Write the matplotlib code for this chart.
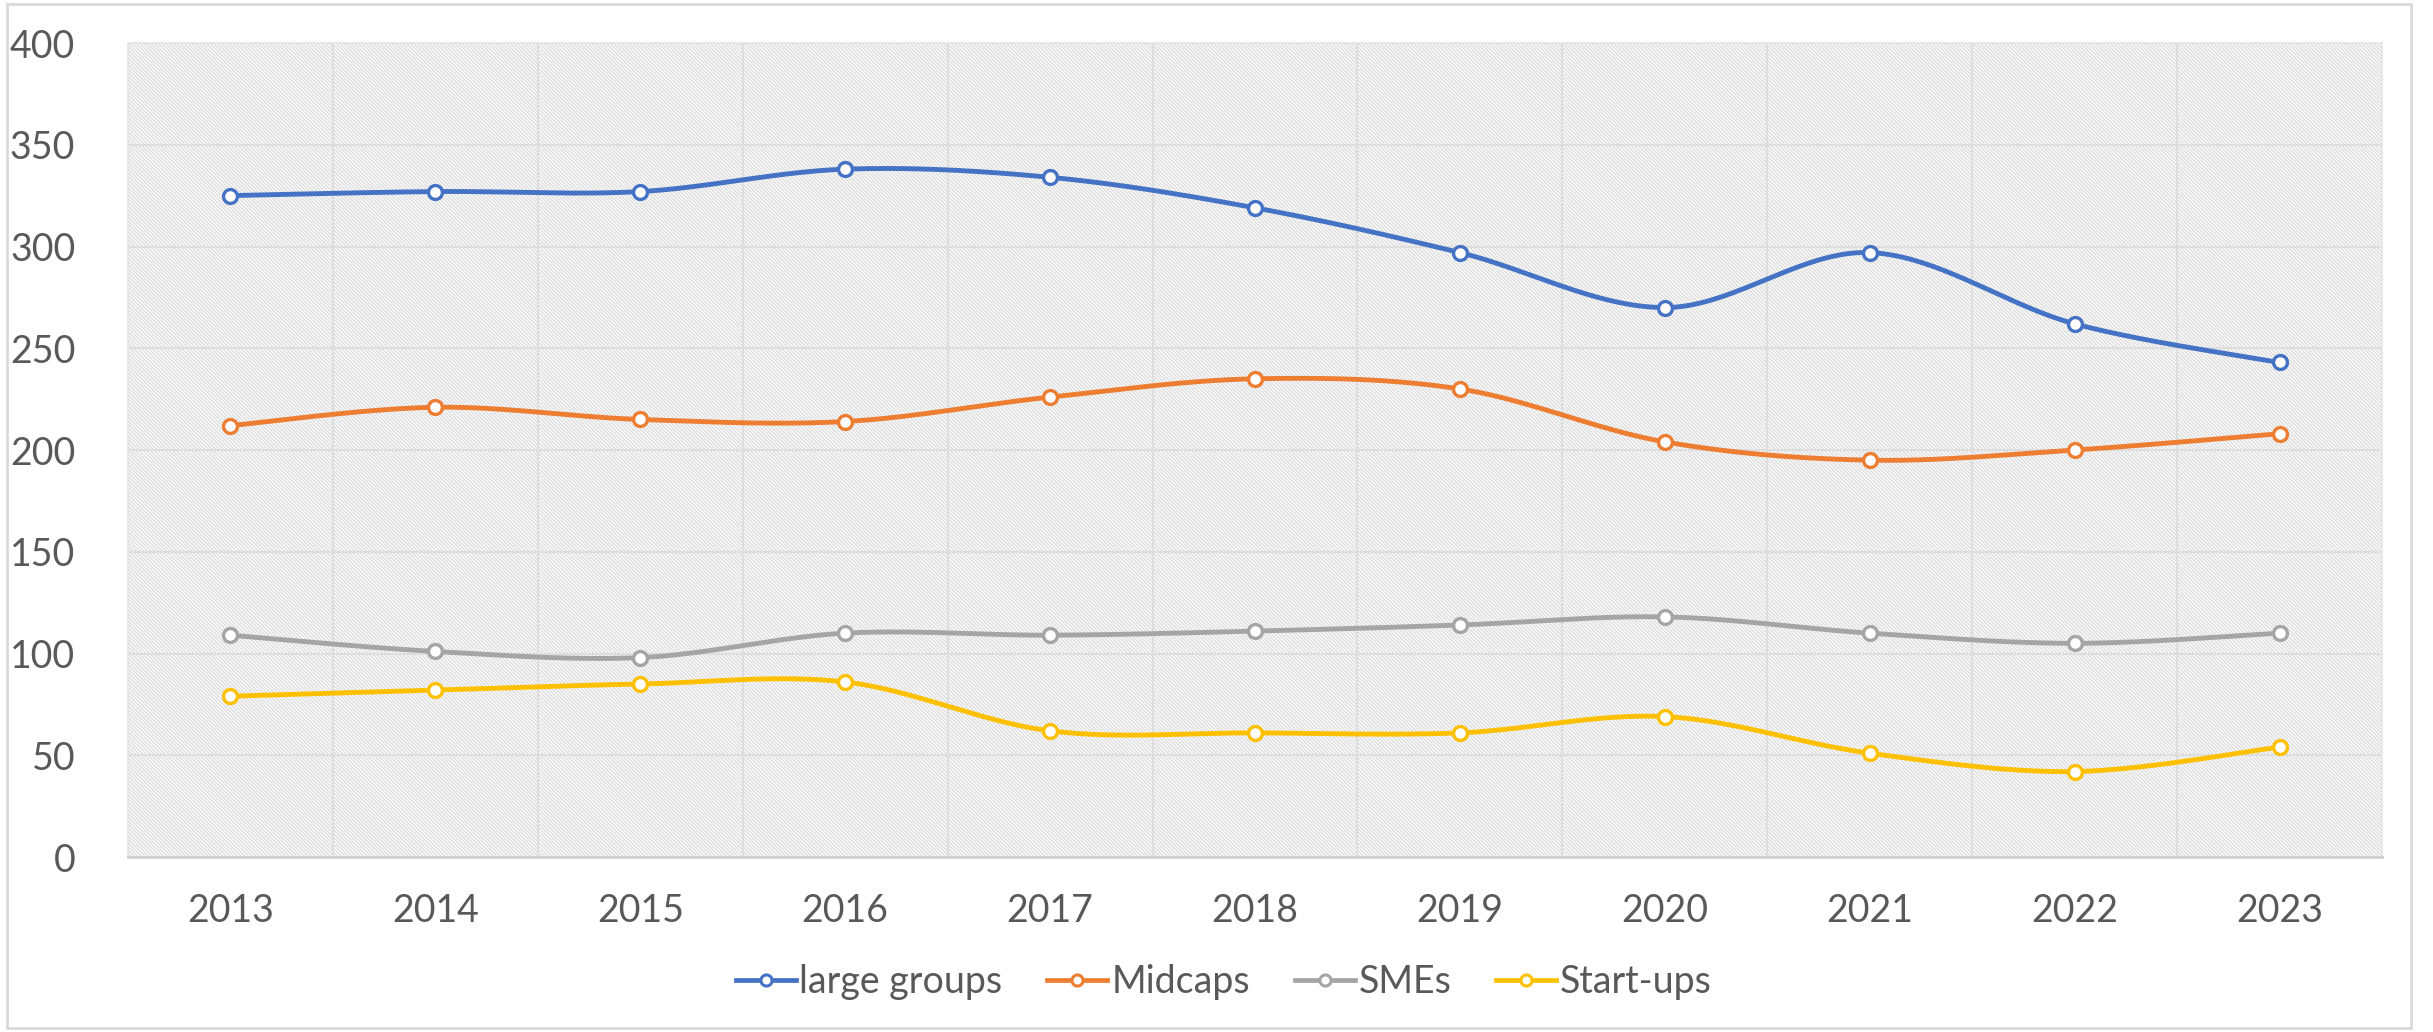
import numpy as np
import matplotlib
matplotlib.use('Agg')
import matplotlib.pyplot as plt
from matplotlib.patches import Rectangle
from matplotlib.lines import Line2D

years = ['2013', '2014', '2015', '2016', '2017', '2018', '2019', '2020', '2021', '2022', '2023']
large_groups = [325, 327, 327, 338, 334, 319, 297, 270, 297, 262, 243]
midcaps = [212, 221, 215, 214, 226, 235, 230, 204, 195, 200, 208]
smes = [109, 101, 98, 110, 109, 111, 114, 118, 110, 105, 110]
startups = [79, 82, 85, 86, 62, 61, 61, 69, 51, 42, 54]

series_names = ['large groups', 'Midcaps', 'SMEs', 'Start-ups']
series_colors = ['#4472C4', '#ED7D31', '#A5A5A5', '#FFC000']

plt.rcParams['font.family'] = ['Lato', 'DejaVu Sans']
plt.rcParams['hatch.linewidth'] = 1.0
text_color = '#595959'
grid_color = '#dedede'


def smooth(x, y, steps=40):
    # cubic bezier through every point, control points as in a catmull-rom spline
    x = np.asarray(x, float)
    y = np.asarray(y, float)
    px = np.concatenate([[x[0]], x, [x[-1]]])
    py = np.concatenate([[y[0]], y, [y[-1]]])
    t = np.linspace(0, 1, steps)[:, None]
    xs, ys = [], []
    for i in range(1, len(px) - 2):
        p0 = np.array([px[i], py[i]])
        p3 = np.array([px[i + 1], py[i + 1]])
        c1 = p0 + (p3 - np.array([px[i - 1], py[i - 1]])) / 6
        c2 = p3 - (np.array([px[i + 2], py[i + 2]]) - p0) / 6
        pts = ((1 - t) ** 3) * p0 + 3 * ((1 - t) ** 2) * t * c1 + 3 * (1 - t) * t ** 2 * c2 + t ** 3 * p3
        xs.append(pts[:, 0])
        ys.append(pts[:, 1])
    return np.concatenate(xs), np.concatenate(ys)


fig = plt.figure(figsize=(24.33, 10.32), dpi=100)
fig.patches.append(Rectangle((7 / 2433, 4 / 1032), 2404 / 2433, 1024 / 1032,
                             transform=fig.transFigure, facecolor='none',
                             edgecolor='#d9d9d9', linewidth=2))
ax = fig.add_axes([128 / 2433, 1 - 857 / 1032, 2254 / 2433, 814 / 1032])

# hatched plot area
ax.add_patch(Rectangle((0, 0), 1, 1, transform=ax.transAxes, facecolor='white',
                       edgecolor='#dcdcdc', linewidth=0, hatch='\\' * 9, zorder=0))

x = np.arange(len(years))
handles = []
for vals, name, color in zip([large_groups, midcaps, smes, startups], series_names, series_colors):
    sx, sy = smooth(x, vals)
    ax.plot(sx, sy, color=color, linewidth=3.5, zorder=3, solid_capstyle='round')
    ax.plot(x, vals, linestyle='none', marker='o', markersize=10, markerfacecolor='white',
            markeredgecolor=color, markeredgewidth=2.4, zorder=4)
    handles.append(Line2D([], [], color=color, linewidth=3.4, marker='o', markersize=8,
                          markerfacecolor='white', markeredgecolor=color, markeredgewidth=2.2))

ax.set_xlim(-0.5, len(years) - 0.5)
ax.set_ylim(0, 400)
ax.set_yticks(range(0, 401, 50))
ax.set_xticks(x)
ax.set_xticklabels(years)
ax.set_xticks(np.arange(-0.5, len(years), 0.5), minor=True)

ax.grid(axis='y', which='major', color=grid_color, linewidth=1.5, zorder=1)
ax.grid(axis='x', which='minor', color=grid_color, linewidth=1.5, zorder=1)
ax.set_axisbelow(True)

ax.tick_params(axis='both', which='both', length=0, labelsize=27, colors=text_color)
ax.tick_params(axis='y', pad=38)
ax.tick_params(axis='x', pad=26)

for side in ['top', 'right', 'left']:
    ax.spines[side].set_color('#e6e6e6')
    ax.spines[side].set_linewidth(1.2)
ax.spines['bottom'].set_color('#d0d0d0')
ax.spines['bottom'].set_linewidth(2)

leg = fig.legend(handles, series_names, loc='center', bbox_to_anchor=(0.503, 1 - 982 / 1032),
                 ncol=4, frameon=False, fontsize=27, handlelength=1.6, handletextpad=0.1,
                 columnspacing=1.2, labelcolor=text_color)

fig.savefig('out.png', dpi=100)
